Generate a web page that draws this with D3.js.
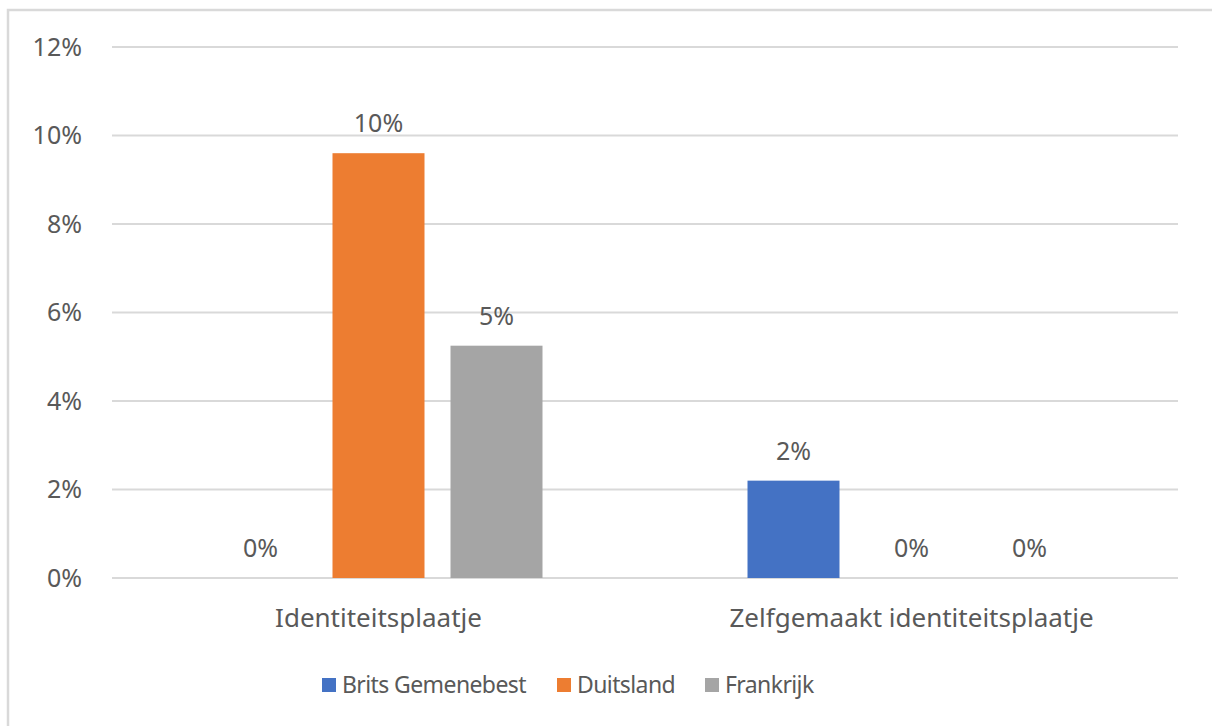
<!DOCTYPE html>
<html><head><meta charset="utf-8">
<script src="https://cdn.jsdelivr.net/npm/d3@7"></script>
<style>body{margin:0;background:#fff}svg{display:block}text{font-family:"Noto Sans",sans-serif;fill:#595959}</style>
</head><body><svg id="c" width="1212" height="726"></svg>
<script>
const categories = ["Identiteitsplaatje", "Zelfgemaakt identiteitsplaatje"];
const seriesNames = ["Brits Gemenebest", "Duitsland", "Frankrijk"];
const britsValues = [0, 0.022];
const duitslandValues = [0.096, 0];
const frankrijkValues = [0.0525, 0];
const yTicks = [0, 0.02, 0.04, 0.06, 0.08, 0.10, 0.12];
const colors = ["#4472C4", "#ED7D31", "#A5A5A5"];

const seriesValues = [britsValues, duitslandValues, frankrijkValues];
const svg = d3.select("#c");
const fsTick = 25, fsCat = 26, fsLabel = 25, fsLegend = 23;

// frame border
svg.append("rect").attr("x", 8).attr("y", 10).attr("width", 1300).attr("height", 800)
  .attr("fill", "none").attr("stroke", "#d9d9d9").attr("stroke-width", 2.5);

const x0 = d3.scaleBand().domain(categories).range([112, 1178]).padding(0);
const x1 = d3.scaleBand().domain(seriesNames).range([0, x0.bandwidth()])
  .paddingInner(26/118).paddingOuter(0.8687);
const y = d3.scaleLinear().domain([0, 0.12]).range([578, 47]);

// gridlines
svg.append("g").selectAll("line").data(yTicks).join("line")
  .attr("x1", 112).attr("x2", 1178)
  .attr("y1", d => y(d)).attr("y2", d => y(d))
  .attr("stroke", "#d9d9d9").attr("stroke-width", 2);

// y axis labels
const yAxis = d3.axisLeft(y).tickValues(yTicks).tickFormat(d3.format(".0%")).tickSize(0).tickPadding(0);
const ya = svg.append("g").attr("transform", "translate(82,0)").call(yAxis);
ya.select(".domain").remove();
ya.selectAll("text").style("font-size", fsTick + "px").style("font-family", "'Noto Sans',sans-serif").attr("fill", "#595959");

// bars
const rows = [];
categories.forEach((c, i) => seriesNames.forEach((s, j) => rows.push({c, s, v: seriesValues[j][i], j})));
svg.append("g").selectAll("rect").data(rows).join("rect")
  .attr("x", d => x0(d.c) + x1(d.s))
  .attr("width", x1.bandwidth())
  .attr("y", d => y(d.v))
  .attr("height", d => y(0) - y(d.v))
  .attr("fill", d => colors[d.j]);

// data labels
svg.append("g").selectAll("text").data(rows).join("text")
  .attr("x", d => x0(d.c) + x1(d.s) + x1.bandwidth()/2)
  .attr("y", d => y(d.v) - 21)
  .attr("text-anchor", "middle")
  .style("font-size", fsLabel + "px")
  .text(d => d3.format(".0%")(d.v));

// x axis labels
const xAxis = d3.axisBottom(x0).tickSize(0).tickPadding(0);
const xa = svg.append("g").attr("transform", "translate(0,578)").call(xAxis);
xa.select(".domain").remove();
xa.selectAll("text").attr("dy", null).attr("y", 49).style("font-size", fsCat + "px").style("font-family", "'Noto Sans',sans-serif").attr("fill", "#595959");

// legend
const legX = [322, 557, 705];
const leg = svg.append("g").selectAll("g").data(seriesNames).join("g")
  .attr("transform", (d, i) => `translate(${legX[i]},678)`);
leg.append("rect").attr("width", 14).attr("height", 14).attr("fill", (d, i) => colors[i]);
leg.append("text").attr("x", 20).attr("y", 15).style("font-size", fsLegend + "px").style("letter-spacing", "-0.6px").text(d => d);
</script></body></html>
